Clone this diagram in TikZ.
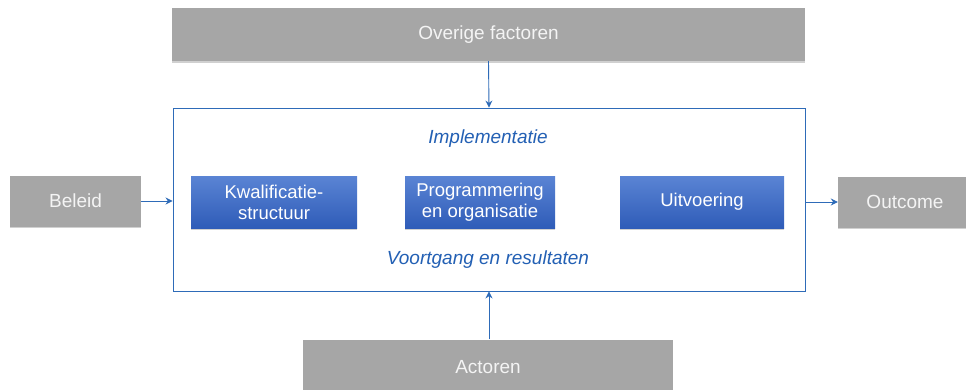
\documentclass[tikz,border=0pt]{standalone}
\usepackage{fontspec}
\setmainfont{Liberation Sans}
\usetikzlibrary{arrows.meta,shadows}
\definecolor{boxgray}{HTML}{A6A6A6}
\definecolor{txtwhite}{HTML}{F4F4F4}
\definecolor{lineblue}{HTML}{2E6BB8}
\definecolor{labelblue}{HTML}{2360B4}
\definecolor{bluetop}{HTML}{5A84D4}
\definecolor{bluebot}{HTML}{2F5CB8}
\tikzset{
  graybox/.style={rectangle, fill=boxgray, text=txtwhite, inner sep=0pt,
    font=\fontsize{19}{22}\selectfont,
    drop shadow={shadow xshift=0pt, shadow yshift=-1.5pt, opacity=0.3, fill=black!60}},
  bluebox/.style={rectangle, top color=bluetop, bottom color=bluebot, text=white,
    inner sep=0pt, align=center, minimum height=52pt,
    font=\fontsize{18.5}{21}\selectfont,
    drop shadow={shadow xshift=0pt, shadow yshift=-1.5pt, opacity=0.3, fill=black!60}},
  frame/.style={rectangle, draw=lineblue, line width=0.9pt, inner sep=0pt},
  conn/.style={draw=lineblue, line width=0.9pt, -{Stealth[length=7pt,width=7pt]}},
  itlabel/.style={text=labelblue, font=\fontsize{19}{22}\selectfont\itshape}
}
\begin{document}
\begin{tikzpicture}[x=1pt,y=-1pt]
\clip (0,0) rectangle (966,389);
\fill[white] (0,0) rectangle (966,389);
\node[graybox, minimum width=633pt, minimum height=53pt] (over) at (488.5,34.5) {Overige factoren};
\node[frame, minimum width=632pt, minimum height=183pt] (frm) at (489,199.5) {};
\node[graybox, minimum width=131pt, minimum height=51pt] (bel) at (75.5,201) {Beleid};
\node[graybox, minimum width=134pt, minimum height=51pt] (out) at (905,202) {Outcome};
\node[graybox, minimum width=370pt, minimum height=56pt] (act) at (488,367.5) {Actoren};
\node[bluebox, minimum width=166pt] (kwal) at (274,202) {Kwalificatie-\\structuur};
\node[bluebox, minimum width=150pt] (prog) at (480,202) {Programmering\\en organisatie};
\node[bluebox, minimum width=164pt] (uitv) at (702,202) {Uitvoering};
\node[itlabel] (impl) at (488,139) {Implementatie};
\node[itlabel] (voort) at (488,260) {Voortgang en resultaten};
\draw[conn] (over.south) -- (frm.north);
\draw[conn] (act.north -| frm.south) -- (frm.south);
\draw[conn] (bel.east) -- (bel.east -| frm.west);
\draw[conn] (frm.east |- out.west) -- (out.west);
\end{tikzpicture}
\end{document}
